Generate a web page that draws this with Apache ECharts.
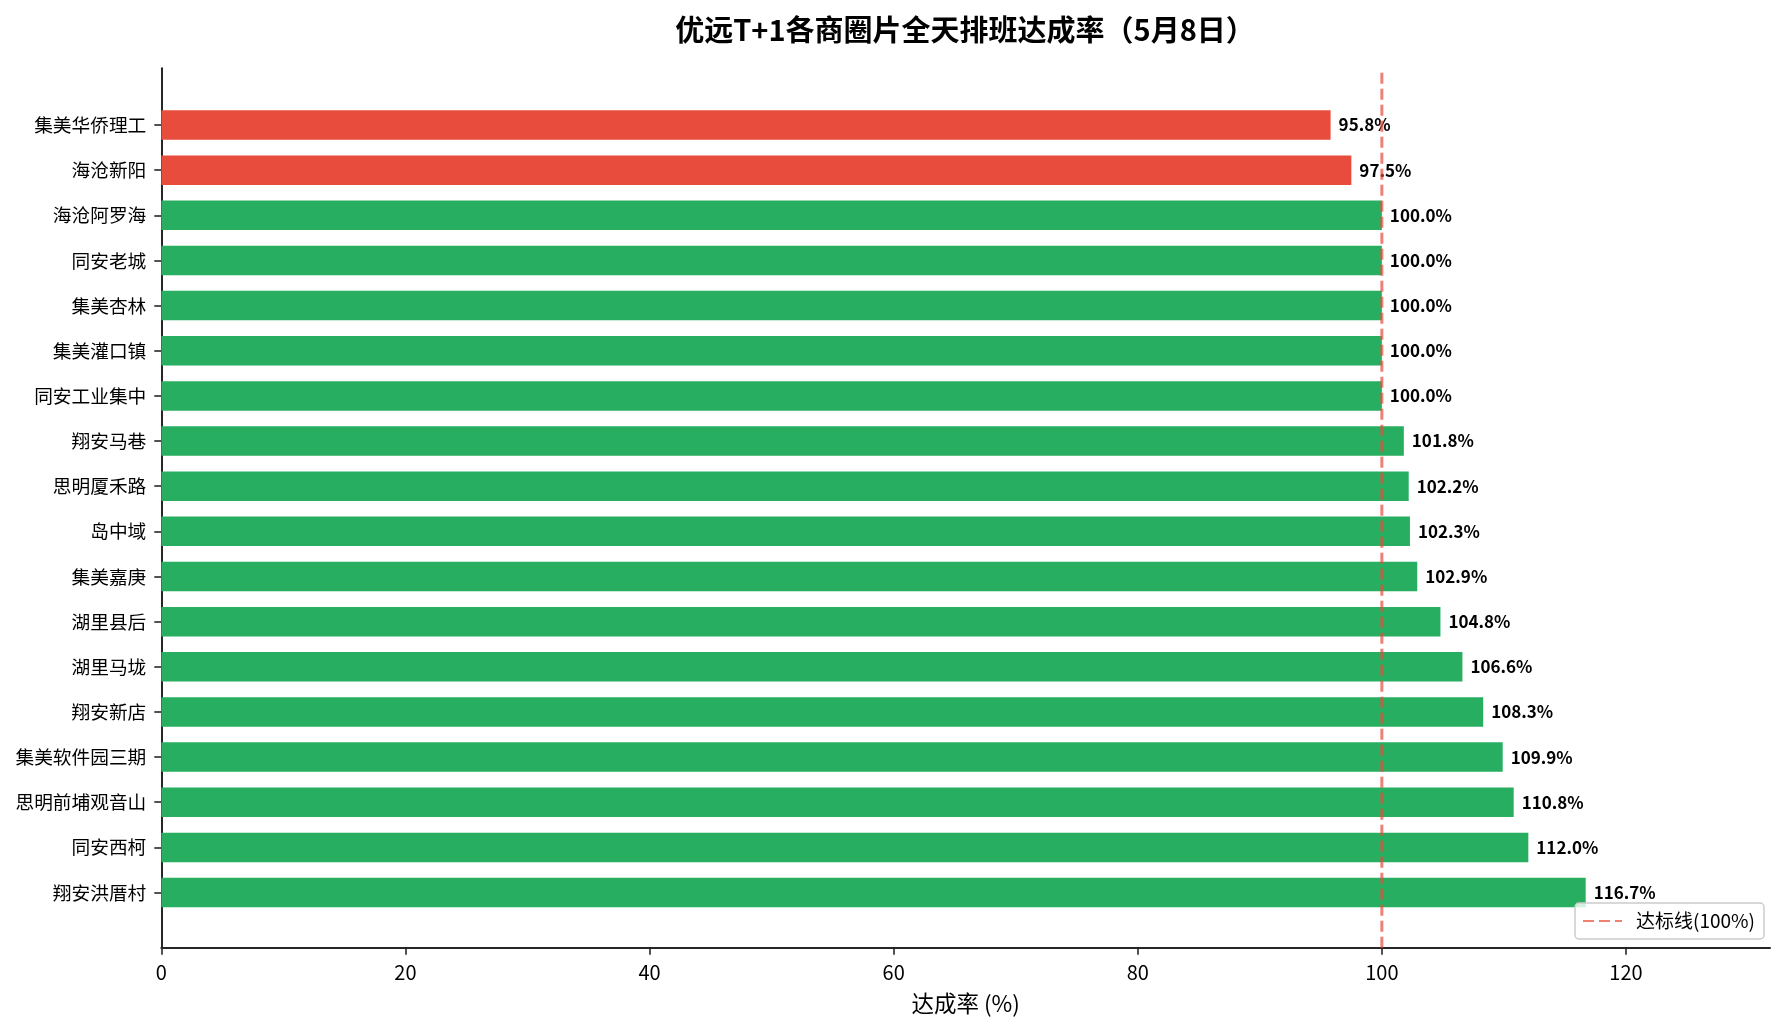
<!DOCTYPE html>
<html>
<head>
<meta charset="utf-8">
<script src="https://cdn.jsdelivr.net/npm/echarts@6/dist/echarts.min.js"></script>
<style>
  html, body { margin: 0; padding: 0; background: #fff; }
  #main { width: 1785px; height: 1033px; }
</style>
</head>
<body>
<div id="main"></div>
<script>
var chartDom = document.getElementById('main');
var myChart = echarts.init(chartDom);

var FONT = '"Noto Sans CJK SC", "Noto Sans", sans-serif';
var redColor = '#E74C3C';
var greenColor = '#27AE60';
var lineColor = 'rgba(231,76,60,0.7)';

// 商圈名称（自上而下）
var areaNames = ['集美华侨理工', '海沧新阳', '海沧阿罗海', '同安老城', '集美杏林', '集美灌口镇',
  '同安工业集中', '翔安马巷', '思明厦禾路', '岛中域', '集美嘉庚', '湖里县后', '湖里马垅',
  '翔安新店', '集美软件园三期', '思明前埔观音山', '同安西柯', '翔安洪厝村'];
// 达成率 (%)
var rateValues = [95.8, 97.5, 100.0, 100.0, 100.0, 100.0, 100.0, 101.8, 102.2, 102.3, 102.9,
  104.8, 106.6, 108.3, 109.9, 110.8, 112.0, 116.7];
var xTicks = [0, 20, 40, 60, 80, 100, 120];
var targetRate = 100;
var targetLine = [[targetRate, 0], [targetRate, 1]];

var xMax = 131.8;
var axisColor = '#262626';

var option = {
  animation: false,
  title: {
    text: '优远T+1各商圈片全天排班达成率（5月8日）',
    left: 965,
    top: 13,
    textAlign: 'center',
    padding: 0,
    textStyle: { fontFamily: FONT, fontSize: 29, fontWeight: 'bold', color: '#000', lineHeight: 33 }
  },
  legend: {
    data: ['达标线(100%)'],
    left: 1575,
    top: 903,
    padding: [8, 9, 8, 7],
    itemWidth: 39,
    itemHeight: 14,
    backgroundColor: 'rgba(255,255,255,0.8)',
    borderColor: '#cccccc',
    borderWidth: 1.5,
    borderRadius: 4,
    z: 10,
    itemStyle: { color: 'rgba(0,0,0,0)', borderColor: 'rgba(0,0,0,0)', borderWidth: 0, opacity: 0 },
    textStyle: { fontFamily: FONT, fontSize: 19, lineHeight: 20, color: '#000', padding: [0, 0, 0, 9] }
  },
  grid: [
    { left: 161.3, right: 15, top: 68.3, bottom: 85.3 },   // 坐标轴框
    { left: 161.3, right: 15, top: 102.4, bottom: 117.9 }  // 柱状图区域
  ],
  xAxis: [
    {
      type: 'value',
      gridIndex: 0,
      min: 0,
      max: xMax,
      name: '达成率 (%)',
      nameLocation: 'middle',
      nameGap: 45,
      nameTextStyle: { fontFamily: FONT, fontSize: 22.5, color: '#000' },
      axisLine: { show: true, onZero: false, lineStyle: { color: axisColor, width: 2 } },
      axisTick: { show: true, length: 7, customValues: xTicks, lineStyle: { color: axisColor, width: 1.6 } },
      axisLabel: { customValues: xTicks, margin: 15, fontFamily: FONT, fontSize: 20, color: '#000' },
      splitLine: { show: false }
    },
    {
      type: 'value',
      gridIndex: 1,
      min: 0,
      max: xMax,
      show: false
    }
  ],
  yAxis: [
    {
      type: 'value',
      gridIndex: 0,
      min: 0,
      max: 1,
      axisLine: { show: true, onZero: false, lineStyle: { color: axisColor, width: 2 } },
      axisTick: { show: false },
      axisLabel: { show: false },
      splitLine: { show: false }
    },
    {
      type: 'category',
      gridIndex: 1,
      data: areaNames,
      inverse: true,
      axisLine: { show: false },
      axisTick: { show: true, alignWithLabel: true, length: 7, lineStyle: { color: axisColor, width: 1.6 } },
      axisLabel: { margin: 15, fontFamily: FONT, fontSize: 18.7, color: '#000' },
      splitLine: { show: false }
    }
  ],
  series: [
    {
      name: '达成率',
      type: 'bar',
      xAxisIndex: 1,
      yAxisIndex: 1,
      data: rateValues,
      barWidth: 29.5,
      z: 2,
      itemStyle: {
        color: function (params) { return params.value < targetRate ? redColor : greenColor; }
      },
      label: {
        show: true,
        position: 'right',
        distance: 8,
        fontFamily: FONT,
        fontSize: 17,
        fontWeight: 'bold',
        color: '#000',
        formatter: function (params) { return params.value.toFixed(1) + '%'; }
      }
    },
    {
      name: '达标线(100%)',
      type: 'line',
      xAxisIndex: 0,
      yAxisIndex: 0,
      data: targetLine,
      symbol: 'none',
      silent: true,
      z: 3,
      color: lineColor,
      lineStyle: { color: lineColor, width: 3, type: [11, 5] }
    }
  ]
};

myChart.setOption(option);
</script>
</body>
</html>
